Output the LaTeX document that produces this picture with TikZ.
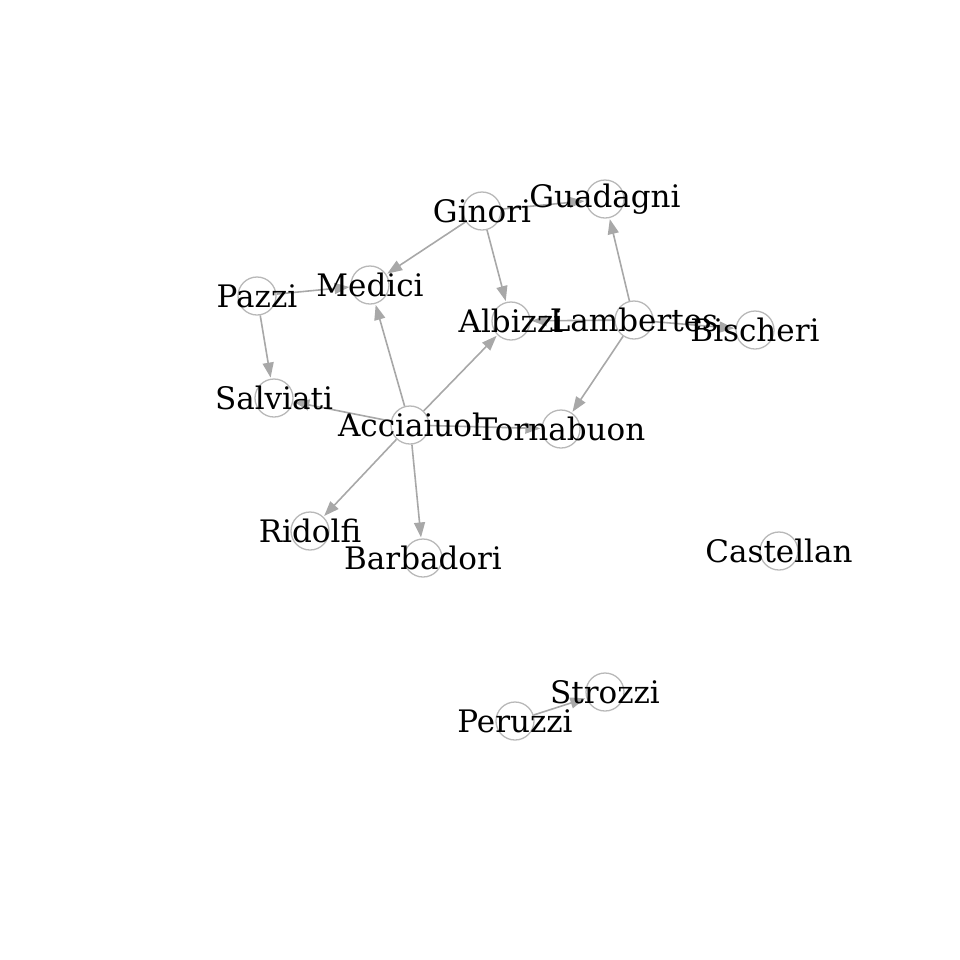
\documentclass[tikz,border=0pt]{standalone}
\usepackage{fontspec}
\setmainfont{DejaVu Serif}
\usetikzlibrary{arrows.meta}
\begin{document}
\begin{tikzpicture}[x=0.5pt, y=-0.5pt, >={Triangle[length=7.5pt,width=5.5pt]}]

\path[use as bounding box] (0,0) rectangle (960,960);

%% styles for the network
\tikzstyle{family}=[circle, minimum size=19pt, inner sep=0pt, draw=black!28, line width=0.65pt]
\tikzstyle{tie}=[->, color=black!34, line width=0.8pt, shorten >=0.5pt]
\tikzstyle{annot}=[inner sep=0pt, font=\fontsize{15.5}{17}\selectfont]

% Draw the family nodes
\foreach \name/\x/\y in {Guadagni/605/199, Ginori/482/211, Medici/370/285,
Pazzi/257/296, Albizzi/511/321, Lambertes/634/320, Bischeri/755/330,
Salviati/274/398, Acciaiuol/410/425, Tornabuon/561/429, Ridolfi/310/531,
Barbadori/423/558, Castellan/779/551, Strozzi/605/692, Peruzzi/515/721}{
\node[family] (\name) at (\x,\y) {};}

%% ties between families
\foreach \source/\dest in {Ginori/Medici, Ginori/Guadagni, Ginori/Albizzi,
Lambertes/Guadagni, Lambertes/Albizzi, Lambertes/Bischeri, Lambertes/Tornabuon,
Pazzi/Medici, Pazzi/Salviati, Acciaiuol/Salviati, Acciaiuol/Medici,
Acciaiuol/Albizzi, Acciaiuol/Tornabuon, Acciaiuol/Ridolfi,
Acciaiuol/Barbadori, Peruzzi/Strozzi}
{\path[tie] (\source) edge (\dest);}

% Labels on top
\foreach \name in {Guadagni, Ginori, Medici, Pazzi, Albizzi, Lambertes,
Bischeri, Salviati, Acciaiuol, Tornabuon, Ridolfi, Barbadori, Castellan,
Strozzi, Peruzzi}{
\node[annot] (t-\name) at (\name) {\name};}

\end{tikzpicture}
\end{document}
